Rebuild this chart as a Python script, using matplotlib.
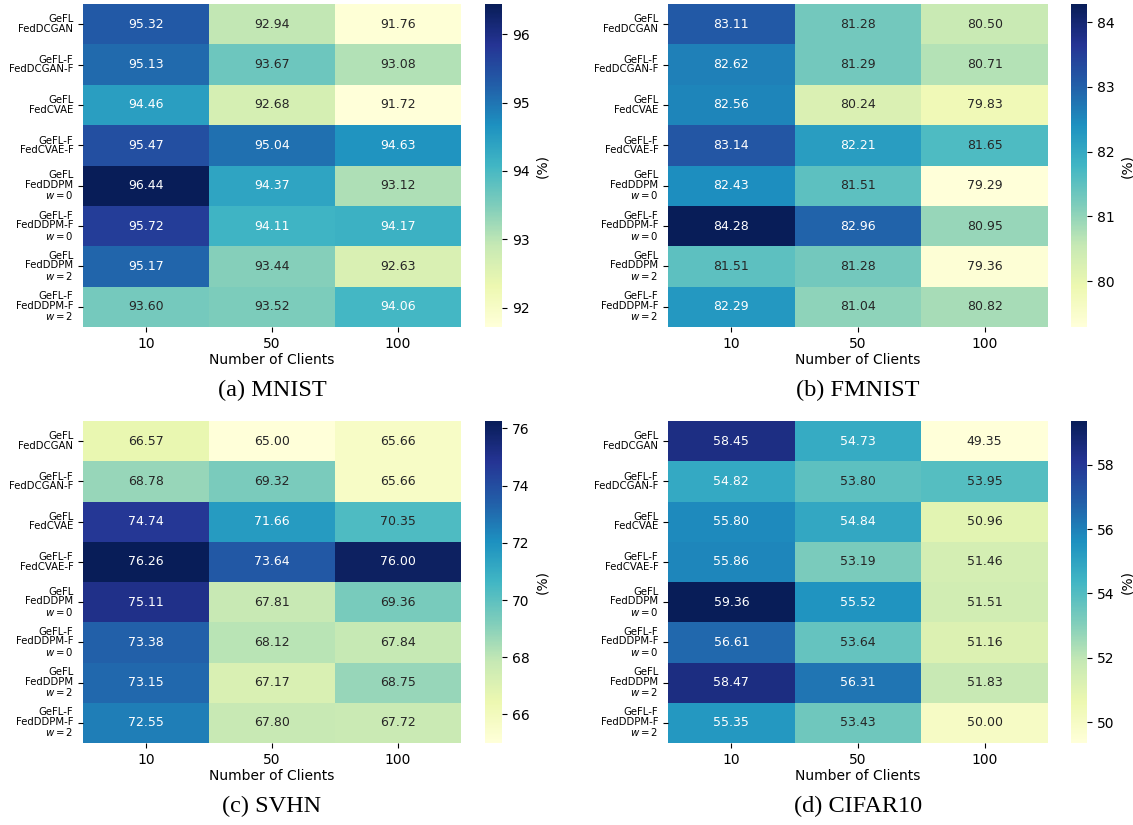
import numpy as np
import matplotlib
matplotlib.use("Agg")
import matplotlib.pyplot as plt
import seaborn as sns

# ============================================================
# DONNÉES
# ============================================================
ROW_LABELS = [
    "GeFL\nFedDCGAN",
    "GeFL-F\nFedDCGAN-F",
    "GeFL\nFedCVAE",
    "GeFL-F\nFedCVAE-F",
    "GeFL\nFedDDPM\n$w=0$",
    "GeFL-F\nFedDDPM-F\n$w=0$",
    "GeFL\nFedDDPM\n$w=2$",
    "GeFL-F\nFedDDPM-F\n$w=2$",
]
CLIENTS = ["10", "50", "100"]

mnist = [
    [95.32, 92.94, 91.76],
    [95.13, 93.67, 93.08],
    [94.46, 92.68, 91.72],
    [95.47, 95.04, 94.63],
    [96.44, 94.37, 93.12],
    [95.72, 94.11, 94.17],
    [95.17, 93.44, 92.63],
    [93.60, 93.52, 94.06],
]

fmnist = [
    [83.11, 81.28, 80.50],
    [82.62, 81.29, 80.71],
    [82.56, 80.24, 79.83],
    [83.14, 82.21, 81.65],
    [82.43, 81.51, 79.29],
    [84.28, 82.96, 80.95],
    [81.51, 81.28, 79.36],
    [82.29, 81.04, 80.82],
]

svhn = [
    [66.57, 65.00, 65.66],
    [68.78, 69.32, 65.66],
    [74.74, 71.66, 70.35],
    [76.26, 73.64, 76.00],
    [75.11, 67.81, 69.36],
    [73.38, 68.12, 67.84],
    [73.15, 67.17, 68.75],
    [72.55, 67.80, 67.72],
]

cifar10 = [
    [58.45, 54.73, 49.35],
    [54.82, 53.80, 53.95],
    [55.80, 54.84, 50.96],
    [55.86, 53.19, 51.46],
    [59.36, 55.52, 51.51],
    [56.61, 53.64, 51.16],
    [58.47, 56.31, 51.83],
    [55.35, 53.43, 50.00],
]

CAPTIONS = ["(a) MNIST", "(b) FMNIST", "(c) SVHN", "(d) CIFAR10"]

# ============================================================
# MISE EN PAGE (fractions de la figure)
# ============================================================
W, H = 1133, 825
# (gauche, droite) en pixels pour la heatmap et la colorbar
COLS = [((83, 461), (485, 502)), ((668, 1048), (1071, 1087))]
ROWS = [(4, 327), (421, 743)]
CAPTION_Y = [390, 806]

fig = plt.figure(figsize=(W / 100, H / 100), dpi=100)

datasets = [mnist, fmnist, svhn, cifar10]

for k, data in enumerate(datasets):
    r, c = divmod(k, 2)
    (x0, x1), (cx0, cx1) = COLS[c]
    y0, y1 = ROWS[r]
    ax = fig.add_axes([x0 / W, 1 - y1 / H, (x1 - x0) / W, (y1 - y0) / H])
    cax = fig.add_axes([cx0 / W, 1 - y1 / H, (cx1 - cx0) / W, (y1 - y0) / H])

    sns.heatmap(np.array(data), ax=ax, cbar_ax=cax, cmap="YlGnBu",
                annot=True, fmt=".2f", annot_kws={"fontsize": 9},
                xticklabels=CLIENTS, yticklabels=ROW_LABELS)

    ax.set_xlabel("Number of Clients", fontsize=10, labelpad=1.5)
    ax.tick_params(axis="x", labelsize=10, rotation=0)
    ax.tick_params(axis="y", labelsize=7.3, rotation=0)
    for lbl in ax.get_yticklabels():
        lbl.set_horizontalalignment("right")
        lbl.set_multialignment("right")
        lbl.set_linespacing(0.95)

    cax.tick_params(labelsize=10)
    cax.set_ylabel("(%)", fontsize=10)

    fig.text((x0 + x1) / 2 / W, 1 - CAPTION_Y[r] / H, CAPTIONS[k],
             ha="center", va="center", fontsize=17.5, family="Liberation Serif")

plt.savefig("out.png", dpi=100)
plt.close()
